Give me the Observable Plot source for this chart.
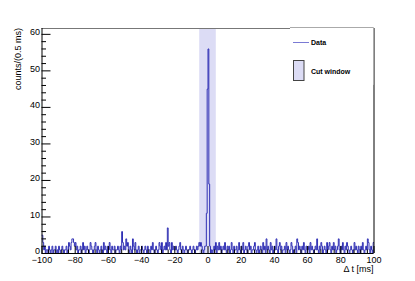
<!DOCTYPE html>
<html><head><meta charset="utf-8">
<script src="https://cdn.jsdelivr.net/npm/d3@7"></script>
<script src="https://cdn.jsdelivr.net/npm/@observablehq/plot@0.6"></script>
<style>body{margin:0;background:#fff} svg{display:block}</style>
</head><body><div id="chart"></div>
<script>
// Histogram of Δt, 0.5 ms bins from -100 to 100 ms
const binStart = -100;
const binWidth = 0.5;
const counts = [
  5,3,1,2,0,1,1,0,2,1, 0,1,2,0,1,1,2,0,1,0, 2,1,0,1,2,1,0,1,1,2, 0,1,3,2,1,3,4,4,3,2,
  3,1,2,0,1,1,2,0,1,3, 1,2,0,1,2,1,0,1,3,2, 1,0,1,2,3,1,0,2,1,0, 1,2,1,0,3,1,2,1,0,2,
  1,3,1,0,2,1,1,2,0,1, 1,2,1,0,2,1,6,3,1,2, 1,4,2,3,1,0,2,1,0,4, 2,1,3,1,0,1,2,0,1,1,
  2,1,0,1,2,1,0,2,1,1, 0,2,1,3,1,0,1,2,1,0, 1,3,2,1,3,0,1,2,1,3, 1,7,2,3,1,0,3,1,2,1,
  1,2,1,0,1,2,3,1,0,2, 1,0,1,2,1,0,1,1,2,1, 0,1,2,1,0,1,2,1,2,3, 2,3,2,1,0,1,2,2,11,45,
  56,19,2,0,1,0,1,2,1,3, 0,2,1,3,1,2,0,1,2,1, 3,1,0,2,1,2,0,1,3,1, 0,2,1,1,2,0,1,3,1,0,
  2,1,3,0,1,2,1,0,2,3, 1,2,0,1,1,2,3,1,0,1, 2,0,1,2,1,0,3,1,2,0, 4,1,2,1,0,3,1,2,0,1,
  2,1,4,1,0,2,3,1,2,0, 1,1,2,0,3,1,2,1,0,1, 3,2,0,1,1,2,0,4,3,1, 2,1,0,2,1,3,1,0,2,1,
  1,2,0,3,1,2,1,0,1,2, 1,4,1,0,2,1,3,2,0,1, 2,1,0,3,1,2,3,1,0,2, 1,3,1,2,0,1,2,4,1,0,
  2,1,3,1,0,2,1,3,2,1, 0,1,2,1,0,1,3,1,2,1, 0,2,1,0,2,1,3,1,0,1, 2,1,4,3,1,0,2,1,0,3
];
const cutWindow = [-5, 5];
const xTicks = [-100, -80, -60, -40, -20, 0, 20, 40, 60, 80, 100];
const yTicks = [0, 10, 20, 30, 40, 50, 60];
const yMax = 61.6;
const xLabel = "\u0394 t [ms]";
const yLabel = "counts/(0.5 ms)";
const legendLabels = ["Data", "Cut window"];

const W = 415, H = 281, mL = 41.5, mR = 41.5, mT = 28, mB = 28;
const pxX = (W - mL - mR) / 200, pxY = (H - mT - mB) / yMax;
const pts = counts.map((c, i) => ({x: binStart + i * binWidth, y: c}));
pts.push({x: binStart + counts.length * binWidth, y: counts[counts.length - 1]});
const yMinor = d3.range(0, 61, 2).filter(v => v % 10 !== 0);
const xMinor = d3.range(-100, 101, 4).filter(v => v % 20 !== 0);
const histColor = "#2f2fb4";
const cutColor = "#dcdcf5";

const plot = Plot.plot({
  width: W, height: H,
  marginLeft: mL, marginRight: mR, marginTop: mT, marginBottom: mB,
  style: {fontFamily: "'Liberation Sans', Arial, sans-serif", fontSize: "9px", background: "#fff"},
  x: {domain: [-100, 100]},
  y: {domain: [0, yMax]},
  marks: [
    Plot.rect([cutWindow], {x1: d => d[0], x2: d => d[1], y1: 0, y2: yMax, fill: cutColor}),
    Plot.line(pts, {x: "x", y: "y", curve: "step-after", stroke: histColor, strokeWidth: 1}),
    Plot.ruleY([yMax], {stroke: "#777"}),
    Plot.ruleY([0], {stroke: "#000"}),
    Plot.ruleX([-100, 100], {stroke: "#000"}),
    Plot.ruleY(yTicks, {x1: -100, x2: -100 + 9 / pxX, stroke: "#000"}),
    Plot.ruleY(yMinor, {x1: -100, x2: -100 + 4.5 / pxX, stroke: "#000"}),
    Plot.ruleX(xTicks, {y1: 0, y2: 7 / pxY, stroke: "#000"}),
    Plot.ruleX(xMinor, {y1: 0, y2: 3.5 / pxY, stroke: "#000"}),
    Plot.axisY({ticks: yTicks, tickSize: 0, tickPadding: 2, fontSize: 9, dy: -2, label: null}),
    Plot.axisX({ticks: xTicks, tickSize: 0, tickPadding: 3, fontSize: 9, label: null})
  ]
});
document.getElementById("chart").appendChild(plot);

const svg = d3.select(plot);
const font = "'Liberation Sans', Arial, sans-serif";
// legend
const lg = svg.append("g").attr("text-anchor", "start");
lg.append("rect").attr("x", 290).attr("y", 27.5).attr("width", 83.5).attr("height", 57).attr("fill", "#fff");
lg.append("line").attr("x1", 290).attr("x2", 373.5).attr("y1", 27.5).attr("y2", 27.5).attr("stroke", "#aaa");
lg.append("line").attr("x1", 373.5).attr("x2", 373.5).attr("y1", 27.5).attr("y2", 84.5).attr("stroke", "#aaa");
lg.append("line").attr("x1", 293).attr("x2", 309).attr("y1", 42.5).attr("y2", 42.5).attr("stroke", "#7a7ad4");
lg.append("text").attr("x", 311).attr("y", 45).attr("text-anchor", "start").attr("font-family", font).attr("font-size", 7).attr("font-weight", "bold").text(legendLabels[0]);
lg.append("rect").attr("x", 293.5).attr("y", 60.5).attr("width", 10.5).attr("height", 20).attr("fill", cutColor).attr("stroke", "#444");
lg.append("text").attr("x", 311).attr("y", 73.5).attr("text-anchor", "start").attr("font-family", font).attr("font-size", 7).attr("font-weight", "bold").text(legendLabels[1]);
// axis titles
svg.append("text").attr("transform", "translate(20.5,28) rotate(-90)").attr("text-anchor", "end")
  .attr("font-family", font).attr("font-size", 9).text(yLabel);
svg.append("text").attr("x", 373.5).attr("y", 272).attr("text-anchor", "end")
  .attr("font-family", font).attr("font-size", 9).text(xLabel);
</script>
</body></html>
